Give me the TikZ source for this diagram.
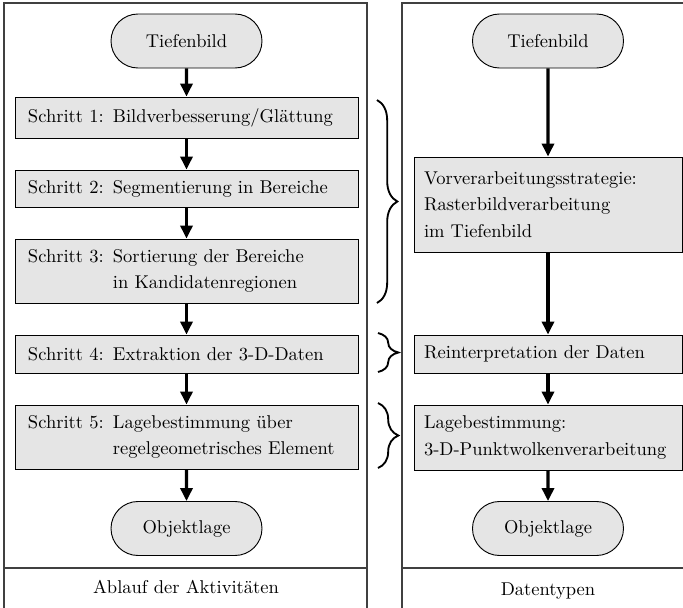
\documentclass[tikz,border=0pt]{standalone}
\usetikzlibrary{arrows.meta,shapes.misc,decorations.pathreplacing}
\newcommand\pxs{0.54pt}
\begin{document}
\begin{tikzpicture}[x=0.54pt,y=-0.54pt,
  panel/.style={draw=black!75,line width=0.7pt},
  term/.style={rounded rectangle,draw=black,line width=0.5pt,fill=black!10,
    minimum width=151*\pxs,minimum height=54*\pxs,inner sep=0pt},
  stepbox/.style={rectangle,draw=black,line width=0.5pt,fill=black!10,
    align=left,font=\linespread{1.2}\selectfont,inner ysep=0pt},
  lbox/.style={stepbox,inner xsep=13*\pxs,text width=317*\pxs},
  rbox/.style={stepbox,inner xsep=10*\pxs,text width=248*\pxs},
  flow/.style={line width=1.7pt,-{Triangle[length=7pt,width=6.5pt]}},
  curly/.style={line width=1pt,decorate,decoration={brace,amplitude=11pt}}
]
\useasboundingbox (0,0) rectangle (683,608);
\clip (0,0) rectangle (683,608);
% panels
\draw[panel] (4,3) rectangle (367,620);
\draw[panel] (4,568) -- (367,568);
\draw[panel] (402,3) rectangle (720,620);
\draw[panel] (402,568) -- (720,568);
\node (lab1) at (186,587) {Ablauf der Aktivit\"aten};
\node (lab2) at (548,591) {Datentypen};
% left column
\node[term] (lt) at (186.5,41) {Tiefenbild};
\node[lbox,minimum height=41*\pxs] (s1) at (186.5,117.5) {Schritt 1: Bildverbesserung/Gl\"attung};
\node[lbox,minimum height=37*\pxs] (s2) at (186.5,188.5) {Schritt 2: Segmentierung in Bereiche};
\node[lbox,minimum height=64*\pxs] (s3) at (186.5,271) {Schritt 3: Sortierung der Bereiche\\\phantom{Schritt 3: }in Kandidatenregionen};
\node[lbox,minimum height=38*\pxs] (s4) at (186.5,354) {Schritt 4: Extraktion der 3-D-Daten};
\node[lbox,minimum height=64*\pxs] (s5) at (186.5,437) {Schritt 5: Lagebestimmung \"uber\\\phantom{Schritt 5: }regelgeometrisches Element};
\node[term] (lo) at (186.5,528.5) {Objektlage};
\draw[flow] (lt) -- (s1);
\draw[flow] (s1) -- (s2);
\draw[flow] (s2) -- (s3);
\draw[flow] (s3) -- (s4);
\draw[flow] (s4) -- (s5);
\draw[flow] (s5) -- (lo);
% right column
\node[term] (rt) at (548,41) {Tiefenbild};
\node[rbox,minimum height=95*\pxs] (v) at (548,204.5) {Vorverarbeitungsstrategie:\\Rasterbildverarbeitung\\im Tiefenbild};
\node[rbox,minimum height=38*\pxs] (r) at (548,354) {Reinterpretation der Daten};
\node[rbox,minimum height=65*\pxs] (l) at (548,437.5) {Lagebestimmung:\\3-D-Punktwolkenverarbeitung};
\node[term] (ro) at (548,528.5) {Objektlage};
\draw[flow] (rt) -- (v);
\draw[flow] (v) -- (r);
\draw[flow] (r) -- (l);
\draw[flow] (l) -- (ro);
% braces
\coordinate (b1a) at (377,100); \coordinate (b1b) at (377,303);
\coordinate (b2a) at (378,333); \coordinate (b2b) at (378,372);
\coordinate (b3a) at (378,403); \coordinate (b3b) at (378,468);
\draw[curly] (b1a) -- (b1b);
\draw[curly] (b2a) -- (b2b);
\draw[curly] (b3a) -- (b3b);
\end{tikzpicture}
\end{document}
